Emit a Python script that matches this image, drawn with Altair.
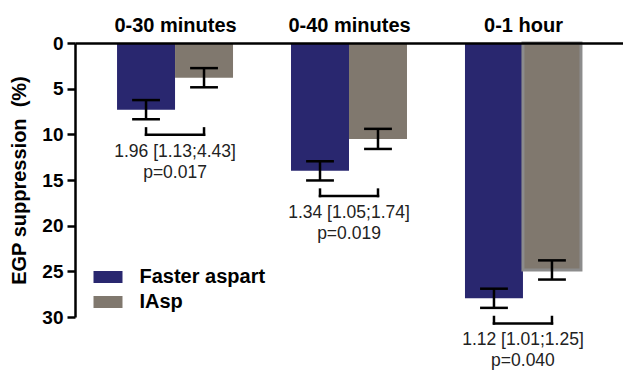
import json
import altair as alt
import pandas as pd

# Mean EGP suppression (%) and error per time window
groups = ["0-30 minutes", "0-40 minutes", "0-1 hour"]
series = ["Faster aspart", "IAsp"]
faster_mean = [7.3, 14.0, 27.95]
faster_err = [1.05, 1.05, 1.05]
iasp_mean = [3.8, 10.5, 24.85]
iasp_err = [1.05, 1.1, 1.05]
ratio_labels = ["1.96 [1.13;4.43]", "1.34 [1.05;1.74]", "1.12 [1.01;1.25]"]
p_labels = ["p=0.017", "p=0.019", "p=0.040"]
y_ticks = [0, 5, 10, 15, 20, 25, 30]

NAVY = "#29276f"
TAUPE = "#80786e"
FONT = "Liberation Sans"

rows = []
for i, g in enumerate(groups):
    rows.append({"g": i, "group": g, "series": series[0], "side": -1,
                 "mean": faster_mean[i], "err": faster_err[i]})
    rows.append({"g": i, "group": g, "series": series[1], "side": 1,
                 "mean": iasp_mean[i], "err": iasp_err[i]})
bars_df = pd.DataFrame(rows)

cmp_df = pd.DataFrame({
    "g": list(range(len(groups))),
    "top": [m + e for m, e in zip(faster_mean, faster_err)],
    "ratio": ratio_labels,
    "p": p_labels,
})

x_scale = alt.Scale(domain=[-0.575, 2.575], nice=False, zero=False)
y_scale = alt.Scale(domain=[0, 30], reverse=True, nice=False, zero=True)

label_expr = json.dumps(groups) + "[datum.value]"
x_axis = alt.Axis(orient="top", values=[0, 1, 2], labelExpr=label_expr,
                  ticks=False, tickSize=0, grid=False, title=None, zindex=1,
                  labelFont=FONT, labelFontSize=20, labelFontWeight="bold",
                  labelColor="black", labelPadding=12, labelBaseline="alphabetic",
                  domainColor="black", domainWidth=2.5, labelFlush=False)
y_axis = alt.Axis(values=y_ticks, format="d", grid=False, zindex=1,
                  title="EGP suppression\u00a0 (%)",
                  titleFont=FONT, titleFontSize=20, titleFontWeight="bold",
                  titleColor="black", titlePadding=12,
                  labelFont=FONT, labelFontSize=19, labelFontWeight="bold",
                  labelColor="black", labelPadding=4,
                  tickSize=8, tickWidth=2.5, tickColor="black",
                  domainColor="black", domainWidth=2.5)

base = alt.Chart(bars_df).transform_calculate(
    bx="datum.g + (datum.side < 0 ? -1/3 : 0)",
    bx2="datum.g + (datum.side < 0 ? 0 : 1/3)",
    c="datum.g + datum.side / 6",
    lo="datum.mean - datum.err",
    hi="datum.mean + datum.err",
    cl="datum.g + datum.side / 6 - 0.08",
    cr="datum.g + datum.side / 6 + 0.08",
)

bars = base.mark_bar().encode(
    x=alt.X("bx:Q", scale=x_scale, axis=x_axis),
    x2="bx2:Q",
    y=alt.Y("mean:Q", scale=y_scale, axis=y_axis),
    y2=alt.datum(0),
    color=alt.Color("series:N", scale=alt.Scale(domain=series, range=[NAVY, TAUPE]),
                    legend=alt.Legend(orient="none", legendX=18.5, legendY=219.5,
                                      title=None, padding=0,
                                      symbolType="M-1,-0.414H1V0.414H-1Z",
                                      symbolSize=841, symbolStrokeWidth=0,
                                      symbolOpacity=1, labelFont=FONT,
                                      labelFontSize=20, labelFontWeight="bold",
                                      labelColor="black", labelOffset=17,
                                      rowPadding=-1)),
    stroke=alt.condition("datum.g == 2 && datum.side > 0",
                         alt.value("#8c8c8c"), alt.value("transparent")),
    strokeWidth=alt.condition("datum.g == 2 && datum.side > 0",
                              alt.value(3), alt.value(0)),
)

stems = base.mark_rule(color="black", strokeWidth=2.5).encode(
    x=alt.X("c:Q", scale=x_scale, axis=x_axis),
    y=alt.Y("lo:Q", scale=y_scale, axis=y_axis),
    y2="hi:Q",
)

caps = base.transform_fold(["lo", "hi"], as_=["end", "yv"]).mark_rule(
    color="black", strokeWidth=2.5).encode(
    x=alt.X("cl:Q", scale=x_scale, axis=x_axis),
    x2="cr:Q",
    y=alt.Y("yv:Q", scale=y_scale, axis=y_axis),
)

cmp_base = alt.Chart(cmp_df).transform_calculate(
    by="datum.top + 1.7",
    bt="datum.top + 1.0",
    left="datum.g - 1/6",
    right="datum.g + 1/6",
)

bracket_h = cmp_base.mark_rule(color="black", strokeWidth=2.5, strokeCap="square").encode(
    x=alt.X("left:Q", scale=x_scale, axis=x_axis),
    x2="right:Q",
    y=alt.Y("by:Q", scale=y_scale, axis=y_axis),
)

bracket_v = cmp_base.transform_fold(["left", "right"], as_=["end", "xv"]).mark_rule(
    color="black", strokeWidth=2.5, strokeCap="square").encode(
    x=alt.X("xv:Q", scale=x_scale, axis=x_axis),
    y=alt.Y("by:Q", scale=y_scale, axis=y_axis),
    y2="bt:Q",
)

ratio_text = cmp_base.mark_text(font=FONT, fontSize=17.5, color="#222222",
                                baseline="middle", dy=17).encode(
    x=alt.X("g:Q", scale=x_scale, axis=x_axis),
    y=alt.Y("by:Q", scale=y_scale, axis=y_axis),
    text="ratio:N",
)

p_text = cmp_base.mark_text(font=FONT, fontSize=17.5, color="#222222",
                            baseline="middle", dy=38).encode(
    x=alt.X("g:Q", scale=x_scale, axis=x_axis),
    y=alt.Y("by:Q", scale=y_scale, axis=y_axis),
    text="p:N",
)

chart = alt.layer(bars, stems, caps, bracket_h, bracket_v, ratio_text, p_text).properties(
    width=548,
    height=274,
    padding={"left": 75, "top": 43, "right": 0, "bottom": 54},
    autosize=alt.AutoSizeParams(type="none"),
    background="white",
).configure_view(stroke=None)

chart.save("out.html", embed_options={"renderer": "svg", "actions": False})
